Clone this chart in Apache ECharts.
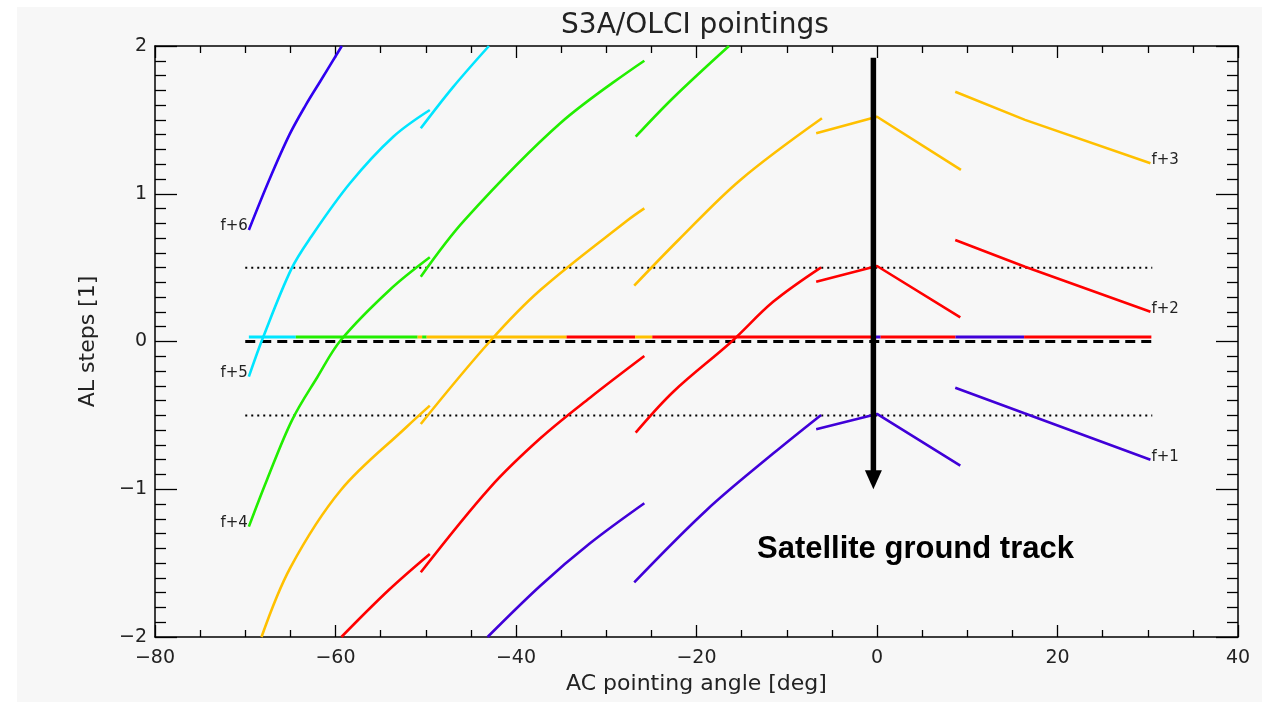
<!DOCTYPE html>
<html>
<head>
<meta charset="utf-8">
<title>S3A/OLCI pointings</title>
<script src="https://cdn.jsdelivr.net/npm/echarts@6/dist/echarts.min.js"></script>
<style>
  html, body { margin: 0; padding: 0; background: #ffffff; }
  #chart { width: 1276px; height: 709px; }
</style>
</head>
<body>
<div id="chart"></div>
<script>
// Axis ranges and tick spacing
const xRange = [-80, 40];
const xMajor = 20;
const yRange = [-2, 2];
const yMajor = 1;

// Frame colours
const colF1 = '#4000d8';
const colF2 = '#ff0000';
const colF3 = '#ffc000';
const colF4 = '#22ee00';
const colF5 = '#00e5ff';
const colF6 = '#3000f0';

// Pointing curves, one segment per camera: [AC angle (deg), AL steps]
const f1Cam2 = [[-43.15, -2.0], [-37.3, -1.653], [-31.8, -1.366], [-25.78, -1.095]];
const f1Cam3 = [[-26.9, -1.63], [-18.87, -1.14], [-11.48, -0.757], [-6.19, -0.497]];
const f1Cam4 = [[-6.74, -0.594], [0, -0.49], [9.23, -0.84]];
const f1Cam5 = [[8.67, -0.313], [16.33, -0.486], [30.3, -0.80]];

const f2Cam1 = [[-59.35, -2.0], [-54.1, -1.682], [-49.55, -1.438]];
const f2Cam2 = [[-50.55, -1.562], [-42.9, -0.99], [-37.3, -0.655], [-31.8, -0.38], [-25.78, -0.098]];
const f2Cam3 = [[-26.74, -0.617], [-22.57, -0.34], [-16.1, 0.0], [-11.48, 0.27], [-6.19, 0.502]];
const f2Cam4 = [[-6.74, 0.405], [0, 0.511], [9.23, 0.164]];
const f2Cam5 = [[8.67, 0.687], [16.4, 0.506], [30.3, 0.202]];

const f3Cam1 = [[-68.2, -2.0], [-65.0, -1.53], [-59.4, -1.005], [-52.1, -0.577], [-49.55, -0.434]];
const f3Cam2 = [[-50.55, -0.558], [-42.9, 0.0], [-37.3, 0.348], [-27.6, 0.822], [-25.78, 0.901]];
const f3Cam3 = [[-26.9, 0.378], [-22.0, 0.687], [-15.17, 1.092], [-6.1, 1.511]];
const f3Cam4 = [[-6.74, 1.409], [0, 1.521], [9.3, 1.161]];
const f3Cam5 = [[8.67, 1.69], [16.4, 1.5], [30.3, 1.206]];

const f4Cam1 = [[-69.6, -1.253], [-67.6, -0.937], [-64.8, -0.53], [-62.0, -0.24], [-59.4, 0.01], [-54.0, 0.349], [-49.55, 0.57]];
const f4Cam2 = [[-50.55, 0.439], [-45.7, 0.822], [-35.1, 1.477], [-25.78, 1.90]];
const f4Cam3 = [[-26.74, 1.386], [-22.57, 1.65], [-16.4, 2.0]];

const f5Cam1 = [[-69.6, -0.238], [-68.0, 0.032], [-64.9, 0.49], [-62.8, 0.70], [-58.4, 1.071], [-53.6, 1.386], [-49.55, 1.567]];
const f5Cam2 = [[-50.55, 1.443], [-47.0, 1.72], [-43.0, 2.0]];

const f6Cam1 = [[-69.6, 0.755], [-67.3, 1.1], [-65.1, 1.40], [-63.3, 1.60], [-61.7, 1.76], [-59.3, 2.0]];

// Frame tags drawn next to the curve ends
const frameNames = ['f+1', 'f+2', 'f+3', 'f+4', 'f+5', 'f+6'];

// Frame nearest to zero along the track, drawn as a coloured bar just above 0
const trackLevel = 0.03;
const trackBreaks = [-69.6, -64.4, -50.9, -50.4, -49.9, -34.4, -26.8, -24.9, -0.3, 0.4, 8.7, 16.3, 30.4];
const trackColors = [colF5, colF4, colF3, colF4, colF3, colF2, colF3, colF2, colF1, colF2, colF1, colF2];

// Reference levels
const refSpan = [-70, 30.5];
const zeroLevel = 0;
const halfLevels = [-0.5, 0.5];

// Ground track arrow
const arrowX = -0.4;
const arrowFrom = 1.92;
const arrowTo = -1.0;

// Curved camera segments (1-3) are drawn smoothed; cameras 4-5 keep their corner at nadir
const frames = [
  { name: frameNames[0], color: colF1, curved: [f1Cam2, f1Cam3], straight: [f1Cam4, f1Cam5] },
  { name: frameNames[1], color: colF2, curved: [f2Cam1, f2Cam2, f2Cam3], straight: [f2Cam4, f2Cam5] },
  { name: frameNames[2], color: colF3, curved: [f3Cam1, f3Cam2, f3Cam3], straight: [f3Cam4, f3Cam5] },
  { name: frameNames[3], color: colF4, curved: [f4Cam1, f4Cam2, f4Cam3], straight: [] },
  { name: frameNames[4], color: colF5, curved: [f5Cam1, f5Cam2], straight: [] },
  { name: frameNames[5], color: colF6, curved: [f6Cam1], straight: [] }
];

const textFont = 'DejaVu Sans, Noto Sans, sans-serif';
const minus = v => String(v).replace('-', '\u2212');

const series = [];

// coloured bar just above zero
for (let i = 0; i < trackColors.length; i++) {
  series.push({
    type: 'line', silent: true, showSymbol: false, z: 3,
    data: [[trackBreaks[i], trackLevel], [trackBreaks[i + 1], trackLevel]],
    lineStyle: { color: trackColors[i], width: 3 }
  });
}

// dashed zero line
series.push({
  type: 'line', silent: true, showSymbol: false, z: 4,
  data: [[refSpan[0], zeroLevel], [refSpan[1], zeroLevel]],
  lineStyle: { color: '#000', width: 3, type: [10, 6] }
});

// dotted half-step lines
halfLevels.forEach(lv => {
  series.push({
    type: 'line', silent: true, showSymbol: false, z: 4,
    data: [[refSpan[0], lv], [refSpan[1], lv]],
    lineStyle: { color: '#000', width: 2, type: [2, 4] }
  });
});

// pointing curves
frames.forEach(fr => {
  fr.curved.forEach(seg => {
    series.push({
      type: 'line', silent: true, showSymbol: false, z: 5, name: fr.name,
      data: seg, smooth: 0.35,
      lineStyle: { color: fr.color, width: 2.6 }
    });
  });
  fr.straight.forEach(seg => {
    series.push({
      type: 'line', silent: true, showSymbol: false, z: 5, name: fr.name,
      data: seg,
      lineStyle: { color: fr.color, width: 2.6 }
    });
  });
});

const axisLineStyle = { color: '#000', width: 1.5 };

const chart = echarts.init(document.getElementById('chart'), null, { renderer: 'canvas' });

chart.setOption({
  backgroundColor: '#ffffff',
  animation: false,
  grid: { left: 155, right: 38, top: 46, bottom: 72, containLabel: false },
  xAxis: [
    {
      type: 'value', min: xRange[0], max: xRange[1], interval: xMajor, position: 'bottom',
      name: 'AC pointing angle [deg]', nameLocation: 'middle', nameGap: 34,
      nameTextStyle: { fontFamily: textFont, fontSize: 22, color: '#222' },
      axisLine: { show: true, onZero: false, lineStyle: axisLineStyle },
      axisTick: { show: true, inside: true, length: 12, lineStyle: { color: '#000', width: 1.3 } },
      minorTick: { show: true, splitNumber: 4, length: 7, lineStyle: { color: '#000', width: 1.3 } },
      splitLine: { show: false },
      axisLabel: { fontFamily: textFont, fontSize: 19, color: '#222', margin: 12, formatter: minus }
    },
    {
      type: 'value', min: xRange[0], max: xRange[1], interval: xMajor, position: 'top',
      axisLine: { show: true, onZero: false, lineStyle: axisLineStyle },
      axisTick: { show: true, inside: true, length: 12, lineStyle: { color: '#000', width: 1.3 } },
      minorTick: { show: true, splitNumber: 4, length: 7, lineStyle: { color: '#000', width: 1.3 } },
      splitLine: { show: false },
      axisLabel: { show: false }
    }
  ],
  yAxis: [
    {
      type: 'value', min: yRange[0], max: yRange[1], interval: yMajor, position: 'left',
      name: 'AL steps [1]', nameLocation: 'middle', nameGap: 56, nameRotate: 90,
      nameTextStyle: { fontFamily: textFont, fontSize: 22, color: '#222' },
      axisLine: { show: true, onZero: false, lineStyle: axisLineStyle },
      axisTick: { show: true, inside: true, length: 22, lineStyle: { color: '#000', width: 1.3 } },
      minorTick: { show: true, splitNumber: 10, length: 11, lineStyle: { color: '#000', width: 1.3 } },
      splitLine: { show: false },
      axisLabel: { fontFamily: textFont, fontSize: 19, color: '#222', margin: 8, formatter: minus }
    },
    {
      type: 'value', min: yRange[0], max: yRange[1], interval: yMajor, position: 'right',
      axisLine: { show: true, onZero: false, lineStyle: axisLineStyle },
      axisTick: { show: true, inside: true, length: 22, lineStyle: { color: '#000', width: 1.3 } },
      minorTick: { show: true, splitNumber: 10, length: 11, lineStyle: { color: '#000', width: 1.3 } },
      splitLine: { show: false },
      axisLabel: { show: false }
    }
  ],
  series: series
});

// Annotations placed through the grid's own coordinate conversion
const px = p => chart.convertToPixel({ gridIndex: 0 }, p);

const shaftTop = px([arrowX, arrowFrom]);
const tip = px([arrowX, arrowTo]);
const headLen = 19;
const headHalf = 8.5;

const graphics = [
  {
    type: 'rect', silent: true, z: -100,
    shape: { x: 17, y: 7, width: 1245, height: 695 },
    style: { fill: '#f7f7f7' }
  },
  {
    type: 'text', silent: true, z: 10,
    style: {
      text: 'S3A/OLCI pointings', x: 695, y: 26, align: 'center', verticalAlign: 'middle',
      font: '28px ' + textFont, fill: '#222'
    }
  },
  {
    type: 'line', silent: true, z: 10,
    shape: { x1: shaftTop[0], y1: shaftTop[1], x2: tip[0], y2: tip[1] - headLen + 1 },
    style: { stroke: '#000', lineWidth: 5.5 }
  },
  {
    type: 'polygon', silent: true, z: 10,
    shape: { points: [[tip[0] - headHalf, tip[1] - headLen], [tip[0] + headHalf, tip[1] - headLen], [tip[0], tip[1]]] },
    style: { fill: '#000' }
  },
  {
    type: 'text', silent: true, z: 10,
    style: {
      text: 'Satellite ground track', x: px([-13.3, 0])[0], y: px([0, -1.41])[1],
      align: 'left', verticalAlign: 'middle',
      font: 'bold 31px Liberation Sans, Arial, sans-serif', fill: '#000'
    }
  }
];

// Frame tags: left side at the start of camera-1 curves, right side at the end of camera-5 curves
const leftTags = [[f6Cam1[0], frameNames[5]], [f5Cam1[0], frameNames[4]], [f4Cam1[0], frameNames[3]]];
const rightTags = [[f3Cam5[f3Cam5.length - 1], frameNames[2]], [f2Cam5[f2Cam5.length - 1], frameNames[1]], [f1Cam5[f1Cam5.length - 1], frameNames[0]]];

leftTags.forEach(([pt, label]) => {
  const p = px(pt);
  graphics.push({
    type: 'text', silent: true, z: 10,
    style: { text: label, x: p[0] - 1, y: p[1] - 4, align: 'right', verticalAlign: 'middle', font: '15px ' + textFont, fill: '#222' }
  });
});
rightTags.forEach(([pt, label]) => {
  const p = px(pt);
  graphics.push({
    type: 'text', silent: true, z: 10,
    style: { text: label, x: p[0] + 1, y: p[1] - 3, align: 'left', verticalAlign: 'middle', font: '15px ' + textFont, fill: '#222' }
  });
});

chart.setOption({ graphic: graphics });
</script>
</body>
</html>
